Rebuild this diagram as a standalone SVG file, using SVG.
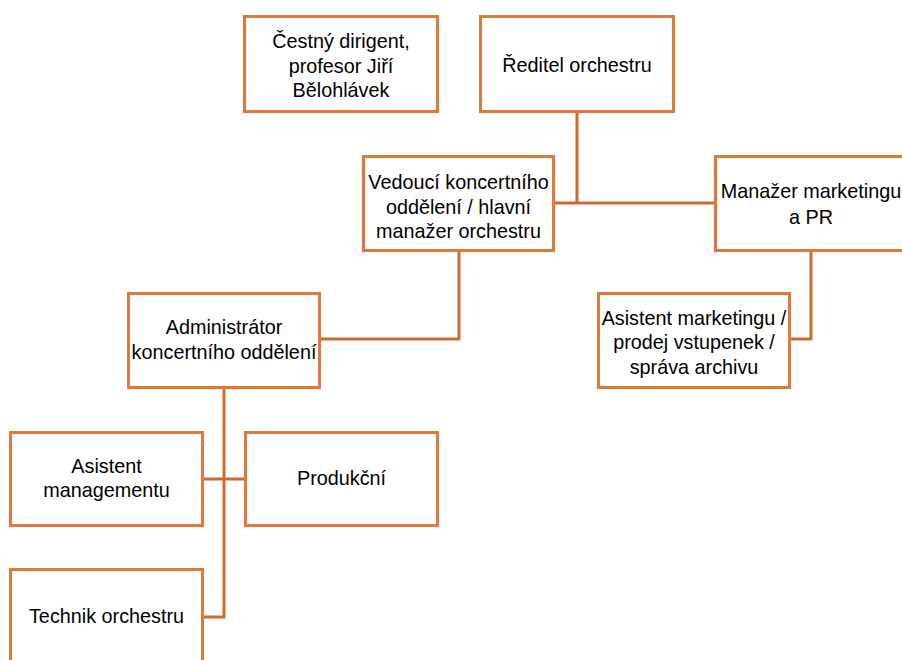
<svg xmlns="http://www.w3.org/2000/svg" width="902" height="660" viewBox="0 0 902 660">
<style>
.box{fill:#FFFFFF;stroke:#E2783A;stroke-width:3}
.t{font-family:"Liberation Sans",Arial,sans-serif;font-size:19.8px;fill:#000000;text-anchor:middle}
.c{fill:none;stroke:#D06A2C;stroke-width:3}
</style>
<rect width="902" height="660" fill="#FFFFFF"/>
<g id="connectors">
<path class="c" d="M577 112V203M555 203H714"/>
<path class="c" d="M459 251V339H321"/>
<path class="c" d="M811 251V339H791"/>
<path class="c" d="M224 389V617H204M204 479H244"/>
</g>
<g id="cestny">
<rect class="box" x="244.5" y="16.5" width="193" height="95"/>
<text class="t" x="341" y="48">Čestný dirigent,</text>
<text class="t" x="341" y="73">profesor Jiří</text>
<text class="t" x="341" y="97">Bělohlávek</text>
</g>
<g id="reditel">
<rect class="box" x="480.5" y="16.5" width="193" height="95"/>
<text class="t" x="577" y="72">Ředitel orchestru</text>
</g>
<g id="vedouci">
<rect class="box" x="363.5" y="156.5" width="190" height="94"/>
<text class="t" x="458.5" y="189">Vedoucí koncertního</text>
<text class="t" x="458.5" y="214">oddělení / hlavní</text>
<text class="t" x="458.5" y="238">manažer orchestru</text>
</g>
<g id="manazer">
<rect class="box" x="715.5" y="156.5" width="193" height="94"/>
<text class="t" x="811" y="198">Manažer marketingu</text>
<text class="t" x="811" y="224">a PR</text>
</g>
<g id="asistent-marketingu">
<rect class="box" x="598.5" y="293.5" width="191" height="94"/>
<text class="t" x="694" y="325">Asistent marketingu /</text>
<text class="t" x="694" y="349">prodej vstupenek /</text>
<text class="t" x="694" y="374">správa archivu</text>
</g>
<g id="administrator">
<rect class="box" x="128.5" y="293.5" width="191" height="94"/>
<text class="t" x="224" y="334">Administrátor</text>
<text class="t" x="224" y="359">koncertního oddělení</text>
</g>
<g id="asistent-managementu">
<rect class="box" x="10.5" y="432.5" width="192" height="93"/>
<text class="t" x="106.5" y="473">Asistent</text>
<text class="t" x="106.5" y="497">managementu</text>
</g>
<g id="produkcni">
<rect class="box" x="245.5" y="432.5" width="192" height="93"/>
<text class="t" x="341.5" y="485">Produkční</text>
</g>
<g id="technik">
<rect class="box" x="10.5" y="569.5" width="192" height="130"/>
<text class="t" x="106.5" y="623">Technik orchestru</text>
</g>
</svg>
